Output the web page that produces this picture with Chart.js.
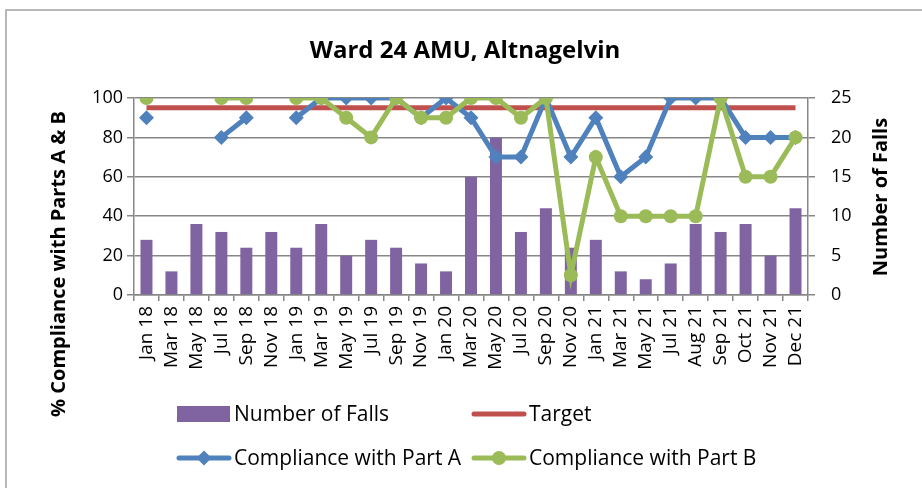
<!DOCTYPE html>
<html>
<head>
<meta charset="utf-8">
<title>Ward 24 AMU, Altnagelvin</title>
<script src="https://cdn.jsdelivr.net/npm/chart.js"></script>
<style>
  html, body { margin: 0; padding: 0; background: #fff; }
  #wrap { width: 922px; height: 488px; }
</style>
</head>
<body>
<div id="wrap"><canvas id="fallsChart" width="922" height="488"></canvas></div>
<script>
// data
var months = ['Jan 18', 'Mar 18', 'May 18', 'Jul 18', 'Sep 18', 'Nov 18',
              'Jan 19', 'Mar 19', 'May 19', 'Jul 19', 'Sep 19', 'Nov 19',
              'Jan 20', 'Mar 20', 'May 20', 'Jul 20', 'Sep 20', 'Nov 20',
              'Jan 21', 'Mar 21', 'May 21', 'Jul 21', 'Aug 21', 'Sep 21', 'Oct 21', 'Nov 21', 'Dec 21'];
var falls  = [7, 3, 9, 8, 6, 8, 6, 9, 5, 7, 6, 4, 3, 15, 20, 8, 11, 6, 7, 3, 2, 4, 9, 8, 9, 5, 11];
var partA  = [90, null, null, 80, 90, null, 90, 100, 100, 100, 100, 90, 100, 90, 70, 70, 100, 70, 90, 60, 70, 100, 100, 100, 80, 80, 80];
var partB  = [100, null, null, 100, 100, null, 100, 100, 90, 80, 100, 90, 90, 100, 100, 90, 100, 10, 70, 40, 40, 40, 40, 100, 60, 60, 80];
var target = [95, 95, 95, 95, 95, 95, 95, 95, 95, 95, 95, 95, 95, 95, 95, 95, 95, 95, 95, 95, 95, 95, 95, 95, 95, 95, 95];
var leftTicks  = [0, 20, 40, 60, 80, 100];
var rightTicks = [0, 5, 10, 15, 20, 25];

var gridGrey = '#878787';
var fontFamily = '"Open Sans", "DejaVu Sans", sans-serif';

// title, axis titles, border and the 2x2 legend
var chartDecor = {
    id: 'chartDecor',
    beforeDraw: function(chart) {
        var ctx = chart.ctx;
        ctx.save();
        ctx.fillStyle = '#fff';
        ctx.fillRect(0, 0, chart.width, chart.height);
        ctx.strokeStyle = '#a0a0a0';
        ctx.lineWidth = 1.5;
        ctx.strokeRect(6, 10, 1000, 1000);
        ctx.restore();
    },
    afterDraw: function(chart) {
        var ctx = chart.ctx;
        var ds = chart.data.datasets;
        ctx.save();
        ctx.fillStyle = '#000';
        ctx.textBaseline = 'middle';

        // chart title
        ctx.textAlign = 'center';
        ctx.font = 'bold 24px ' + fontFamily;
        ctx.fillText('Ward 24 AMU, Altnagelvin', 465, 51);

        // axis titles, both read bottom to top
        ctx.font = 'bold 20px ' + fontFamily;
        ctx.save();
        ctx.translate(59, 264);
        ctx.rotate(-Math.PI / 2);
        ctx.fillText('% Compliance with Parts A & B', 0, 0);
        ctx.restore();
        ctx.save();
        ctx.translate(881, 197);
        ctx.rotate(-Math.PI / 2);
        ctx.fillText('Number of Falls', 0, 0);
        ctx.restore();

        // legend
        var items = [
            { d: ds[3], x: 177, y: 414 },
            { d: ds[2], x: 472, y: 414 },
            { d: ds[1], x: 177, y: 458 },
            { d: ds[0], x: 472, y: 458 }
        ];
        ctx.font = '21px ' + fontFamily;
        ctx.textAlign = 'left';
        items.forEach(function(it) {
            var d = it.d;
            var x0 = it.x, x1 = it.x + 54, xm = it.x + 27;
            if (d.type === 'bar') {
                ctx.fillStyle = d.backgroundColor;
                ctx.fillRect(x0, it.y - 8, 53, 16);
            } else {
                ctx.strokeStyle = d.borderColor;
                ctx.lineWidth = 5;
                ctx.lineCap = 'round';
                ctx.beginPath();
                ctx.moveTo(x0 + 2, it.y);
                ctx.lineTo(x1 - 2, it.y);
                ctx.stroke();
                ctx.fillStyle = d.borderColor;
                if (d.pointStyle === 'rectRot') {
                    ctx.beginPath();
                    ctx.moveTo(xm, it.y - 7.5);
                    ctx.lineTo(xm + 7.5, it.y);
                    ctx.lineTo(xm, it.y + 7.5);
                    ctx.lineTo(xm - 7.5, it.y);
                    ctx.closePath();
                    ctx.fill();
                } else if (d.pointStyle === 'circle' && d.pointRadius > 0) {
                    ctx.beginPath();
                    ctx.arc(xm, it.y, 7, 0, Math.PI * 2);
                    ctx.fill();
                }
            }
            ctx.fillStyle = '#000';
            ctx.fillText(d.label, x1 + 3, it.y + 1);
        });
        ctx.restore();
    }
};

function drawChart() {
    var ctx = document.getElementById('fallsChart').getContext('2d');
    new Chart(ctx, {
        type: 'bar',
        data: {
            labels: months,
            datasets: [{
                type: 'line',
                label: 'Compliance with Part B',
                data: partB,
                borderColor: '#9BBB59',
                backgroundColor: '#9BBB59',
                borderWidth: 5,
                pointStyle: 'circle',
                pointRadius: 7,
                pointBorderWidth: 0,
                tension: 0,
                spanGaps: false,
                yAxisID: 'y',
                order: 0
            },
            {
                type: 'line',
                label: 'Compliance with Part A',
                data: partA,
                borderColor: '#4F81BD',
                backgroundColor: '#4F81BD',
                borderWidth: 5,
                pointStyle: 'rectRot',
                pointRadius: 7.5,
                pointBorderWidth: 0,
                tension: 0,
                spanGaps: false,
                yAxisID: 'y',
                order: 1
            },
            {
                type: 'line',
                label: 'Target',
                data: target,
                borderColor: '#C0504D',
                backgroundColor: '#C0504D',
                borderWidth: 5,
                pointRadius: 0,
                yAxisID: 'y',
                order: 2
            },
            {
                type: 'bar',
                label: 'Number of Falls',
                data: falls,
                backgroundColor: '#8064A2',
                barPercentage: 0.48,
                categoryPercentage: 1,
                yAxisID: 'y1',
                order: 3
            }]
        },
        options: {
            responsive: false,
            animation: false,
            devicePixelRatio: 1,
            layout: { padding: { top: 98, left: 0, right: 0, bottom: 0 } },
            plugins: {
                legend: { display: false },
                title: { display: false },
                tooltip: { enabled: false }
            },
            scales: {
                x: {
                    grid: { offset: true, drawOnChartArea: false, color: gridGrey, lineWidth: 1.5, tickLength: 6 },
                    border: { color: gridGrey, width: 1.5 },
                    ticks: { minRotation: 90, maxRotation: 90, autoSkip: false, padding: 5, color: '#000',
                             font: { family: fontFamily, size: 19 } },
                    afterFit: function(s) { s.height = 193; }
                },
                y: {
                    position: 'left',
                    min: 0, max: 100,
                    afterBuildTicks: function(s) { s.ticks = leftTicks.map(function(v) { return { value: v }; }); },
                    grid: { color: gridGrey, lineWidth: 1.5, tickLength: 7 },
                    border: { color: gridGrey, width: 1.5 },
                    ticks: { padding: 4, color: '#000', font: { family: fontFamily, size: 18 } },
                    afterFit: function(s) { s.width = 134; }
                },
                y1: {
                    position: 'right',
                    min: 0, max: 25,
                    afterBuildTicks: function(s) { s.ticks = rightTicks.map(function(v) { return { value: v }; }); },
                    grid: { drawOnChartArea: false, color: gridGrey, lineWidth: 1.5, tickLength: 7 },
                    border: { color: gridGrey, width: 1.5 },
                    ticks: { padding: 16, color: '#000', font: { family: fontFamily, size: 18 } },
                    afterFit: function(s) { s.width = 114; }
                }
            }
        },
        plugins: [chartDecor]
    });
}

// make sure the local fonts are ready before the canvas uses them
Promise.all([
    document.fonts.load('18px "Open Sans"'),
    document.fonts.load('bold 20px "Open Sans"')
]).then(drawChart, drawChart);
</script>
</body>
</html>
